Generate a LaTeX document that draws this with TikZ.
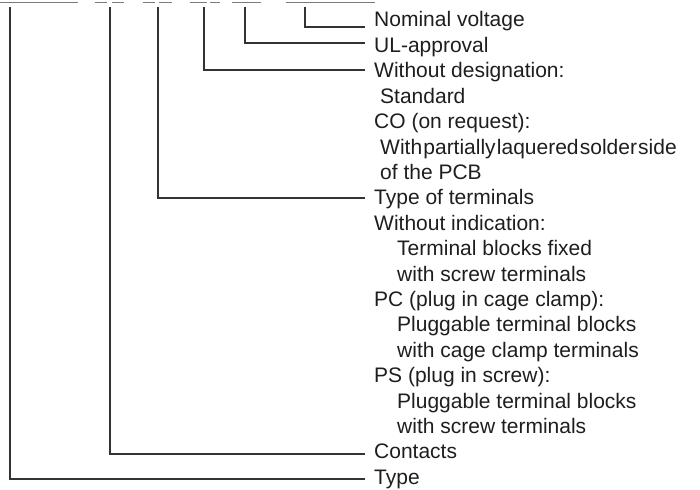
\documentclass[tikz,border=0pt]{standalone}
\usepackage{fontspec}
\setmainfont{Liberation Sans}
\definecolor{ink}{HTML}{1E1E1E}
\definecolor{rulec}{HTML}{333333}
\definecolor{topgray}{HTML}{7A7A7A}
\begin{document}
\begin{tikzpicture}[x=1pt,y=-1pt,
  lbl/.style={anchor=base west, inner sep=0pt, text=ink, font=\fontsize{21}{25}\selectfont},
  conn/.style={draw=rulec, line width=1.2pt},
  topline/.style={draw=topgray, line width=1.3pt}]
\useasboundingbox (0,0) rectangle (700,489);
% clipped designation underlines at the top edge
\draw[topline] (0,2.5) -- (78,2.5);
\draw[topline] (95,2.5) -- (107,2.5);
\draw[topline] (112,2.5) -- (124,2.5);
\draw[topline] (143,2.5) -- (155,2.5);
\draw[topline] (159,2.5) -- (172,2.5);
\draw[topline] (190,2.5) -- (207,2.5);
\draw[topline] (210,2.5) -- (220,2.5);
\draw[topline] (232,2.5) -- (261,2.5);
\draw[topline] (286,2.5) -- (375,2.5);
% labels
\node[lbl] (nom) at (374,27) {Nominal voltage};
\node[lbl] (ul) at (374,52.4) {UL-approval};
\node[lbl] (wod) at (374,77.8) {Without designation:};
\node[lbl] (std) at (380,103.2) {Standard};
\node[lbl] (co) at (374,128.6) {CO (on request):};
\node[lbl] (cod1) at (380,154) {With\hspace{1.2pt}partially\hspace{1.2pt}laquered\hspace{1.2pt}solder\hspace{1.2pt}side};
\node[lbl] (cod2) at (380,179.4) {of the PCB};
\node[lbl] (tot) at (374,204.8) {Type of terminals};
\node[lbl] (woi) at (374,230.2) {Without indication:};
\node[lbl] (woi1) at (397,255.6) {Terminal blocks fixed};
\node[lbl] (woi2) at (397,281) {with screw terminals};
\node[lbl] (pc) at (374,306.4) {PC (plug in cage clamp):};
\node[lbl] (pc1) at (397,331.8) {Pluggable terminal blocks};
\node[lbl] (pc2) at (397,357.2) {with cage clamp terminals};
\node[lbl] (ps) at (374,382.6) {PS (plug in screw):};
\node[lbl] (ps1) at (397,408) {Pluggable terminal blocks};
\node[lbl] (ps2) at (397,433.4) {with screw terminals};
\node[lbl] (con) at (374,458.8) {Contacts};
\node[lbl] (typ) at (374,484.2) {Type};
% connector tops and ends
\coordinate (t1) at (10,7);
\coordinate (t2) at (110,7);
\coordinate (t3) at (158,7);
\coordinate (t4) at (204,7);
\coordinate (t5) at (245,7);
\coordinate (t6) at (305,7);
\coordinate (e1) at (365,479);
\coordinate (e2) at (365,454);
\coordinate (e3) at (365,198);
\coordinate (e4) at (365,70);
\coordinate (e5) at (365,43);
\coordinate (e6) at (365,27);
\draw[conn] (t1) |- (e1);
\draw[conn] (t2) |- (e2);
\draw[conn] (t3) |- (e3);
\draw[conn] (t4) |- (e4);
\draw[conn] (t5) |- (e5);
\draw[conn] (t6) |- (e6);
\end{tikzpicture}
\end{document}
